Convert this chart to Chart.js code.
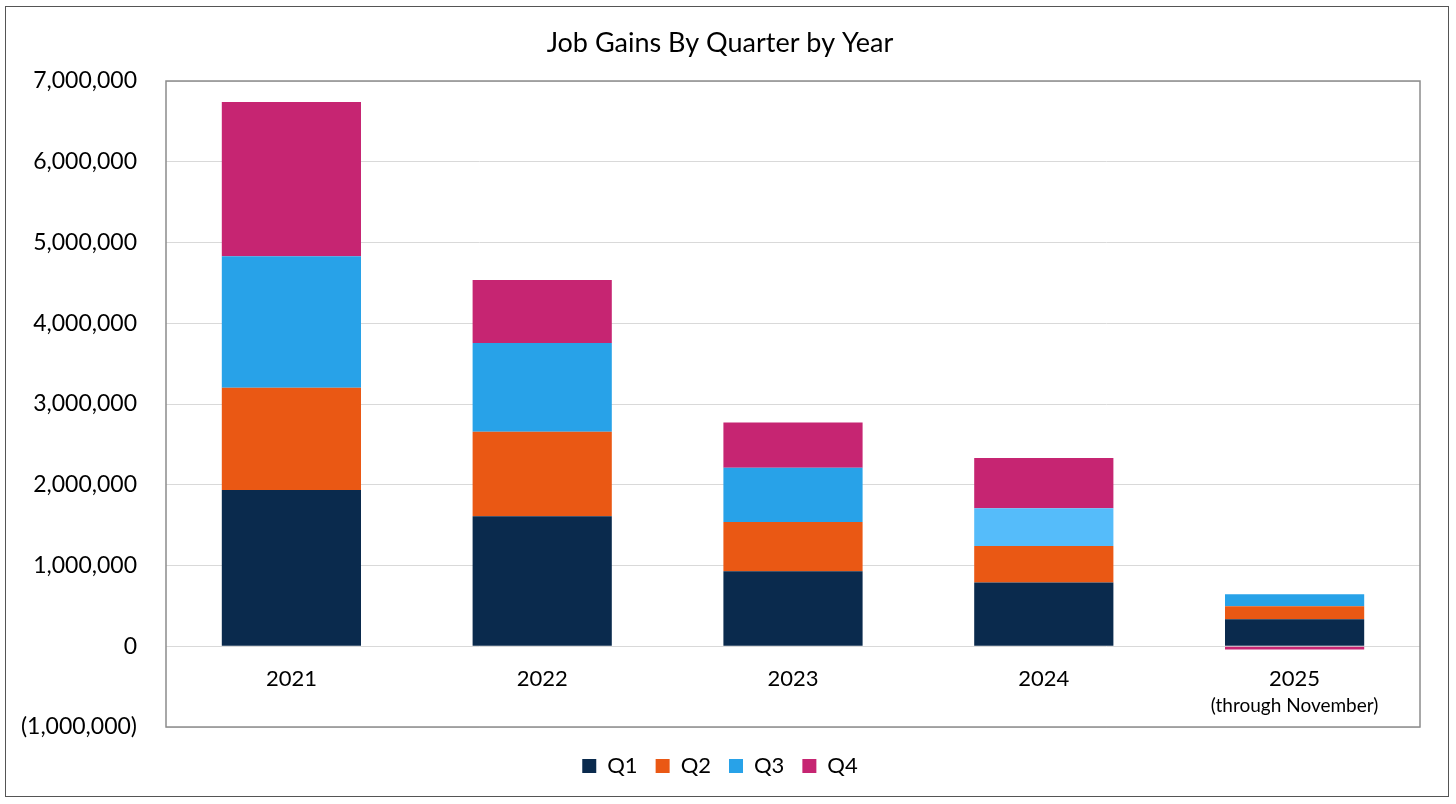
<!DOCTYPE html>
<html>
<head>
<meta charset="utf-8">
<script src="https://cdn.jsdelivr.net/npm/chart.js@4.4.1/dist/chart.umd.min.js"></script>
<style>
  html, body { margin: 0; padding: 0; background: #fff; }
  #wrap { position: relative; width: 1456px; height: 804px; }
  #frame { position: absolute; left: 5px; top: 6px; width: 1442px; height: 789px; border: 1.5px solid #555; pointer-events: none; }
</style>
</head>
<body>
<div id="wrap">
  <canvas id="chart1" width="1456" height="804"></canvas>
  <div id="frame"></div>
</div>
<script>
const years = ['2021', '2022', '2023', '2024', ['2025', '(through November)']];
const q1 = [1936000, 1610000, 930000, 790000, 335000];
const q2 = [1265000, 1045000, 610000, 450000, 160000];
const q3 = [1630000, 1100000, 670000, 470000, 150000];
const q4 = [1910000, 780000, 560000, 620000, -40000];
const yMin = -1000000;
const yMax = 7000000;
const yStep = 1000000;

const q3Colors = ['#28a2e8', '#28a2e8', '#28a2e8', '#55bcfa', '#28a2e8'];

// plot frame + category labels sitting under the zero line
const framePlugin = {
  id: 'framePlugin',
  afterDraw(chart) {
    const ctx = chart.ctx;
    const a = chart.chartArea;
    ctx.save();
    ctx.strokeStyle = '#8c8c8c';
    ctx.lineWidth = 1.5;
    ctx.strokeRect(a.left, a.top, a.right - a.left, a.bottom - a.top);

    const xs = chart.scales.x;
    const ys = chart.scales.y;
    const y0 = ys.getPixelForValue(0);
    ctx.fillStyle = '#000';
    ctx.textAlign = 'center';
    ctx.textBaseline = 'middle';
    years.forEach(function (lab, i) {
      const x = xs.getPixelForValue(i);
      const lines = Array.isArray(lab) ? lab : [lab];
      ctx.font = '22px Lato';
      ctx.fillText(lines[0], x, y0 + 33);
      if (lines[1]) {
        ctx.font = '19px Lato';
        ctx.fillText(lines[1], x, y0 + 60);
      }
    });
    ctx.restore();
  }
};

const data1 = {
  labels: years,
  datasets: [
    { label: 'Q1', data: q1, backgroundColor: '#0a2a4d' },
    { label: 'Q2', data: q2, backgroundColor: '#ea5814' },
    { label: 'Q3', data: q3, backgroundColor: q3Colors },
    { label: 'Q4', data: q4, backgroundColor: '#c62572' }
  ]
};

const config1 = {
  type: 'bar',
  data: data1,
  plugins: [framePlugin],
  options: {
    responsive: false,
    animation: false,
    datasets: {
      bar: { categoryPercentage: 1, barPercentage: 0.555 }
    },
    layout: { padding: { top: 4, right: 36, bottom: 17, left: 20 } },
    scales: {
      x: {
        stacked: true,
        grid: { display: false },
        border: { display: false },
        ticks: { display: false },
        afterFit: function (s) { s.height = 10; }
      },
      y: {
        stacked: true,
        min: yMin,
        max: yMax,
        grid: { color: '#d9d9d9', lineWidth: 1, drawTicks: false },
        border: { display: false },
        afterFit: function (s) { s.width = 146; },
        ticks: {
          stepSize: yStep,
          padding: 29,
          color: '#000',
          font: { family: 'Lato', size: 23 },
          callback: function (v) {
            const s = Math.abs(v).toLocaleString('en-US');
            return v < 0 ? '(' + s + ')' : s;
          }
        }
      }
    },
    plugins: {
      title: {
        display: true,
        text: 'Job Gains By Quarter by Year',
        color: '#000',
        font: { family: 'Lato', size: 27, weight: 'normal' },
        padding: { top: 23, bottom: 21.6 }
      },
      legend: {
        position: 'bottom',
        labels: {
          color: '#000',
          font: { family: 'Lato', size: 22 },
          boxWidth: 14,
          boxHeight: 14,
          padding: 18,
          generateLabels: function (chart) {
            return chart.data.datasets.map(function (ds, i) {
              const c = Array.isArray(ds.backgroundColor) ? ds.backgroundColor[0] : ds.backgroundColor;
              return { text: ds.label, fillStyle: c, strokeStyle: c, lineWidth: 0, datasetIndex: i, fontColor: '#000' };
            });
          }
        }
      },
      tooltip: { enabled: false }
    }
  }
};

var ctx1 = document.getElementById('chart1').getContext('2d');
new Chart(ctx1, config1);
</script>
</body>
</html>
